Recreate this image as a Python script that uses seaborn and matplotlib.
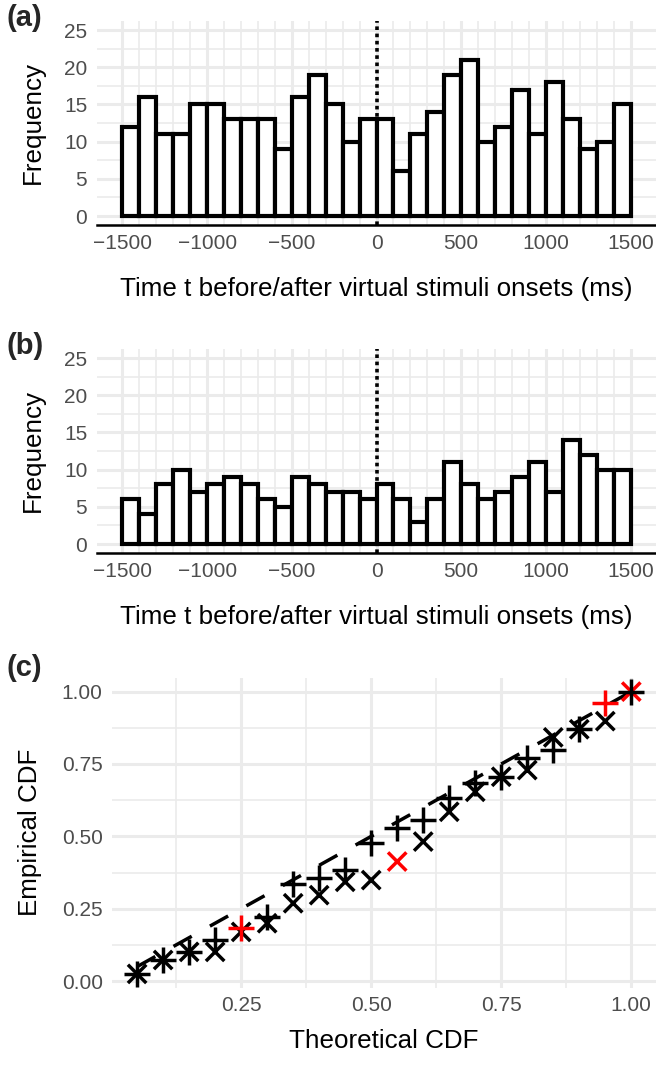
import numpy as np
import pandas as pd
import matplotlib
matplotlib.use("Agg")
import matplotlib.pyplot as plt
import seaborn as sns
from matplotlib.ticker import FormatStrFormatter

# ---------------- data ----------------
bin_edges = list(range(-1500, 1501, 100))
counts_a = [12, 16, 11, 11, 15, 15, 13, 13, 13, 9, 16, 19, 15, 10, 13,
            13, 6, 11, 14, 19, 21, 10, 12, 17, 11, 18, 13, 9, 10, 15]
counts_b = [6, 4, 8, 10, 7, 8, 9, 8, 6, 5, 9, 8, 7, 7, 6,
            8, 6, 3, 6, 11, 8, 6, 7, 9, 11, 7, 14, 12, 10, 10]

theoretical = [0.05, 0.10, 0.15, 0.20, 0.25, 0.30, 0.35, 0.40, 0.45, 0.50,
               0.55, 0.60, 0.65, 0.70, 0.75, 0.80, 0.85, 0.90, 0.95, 1.00]
emp_plus = [0.025, 0.073, 0.101, 0.142, 0.182, 0.222, 0.335, 0.355, 0.384, 0.476,
            0.528, 0.556, 0.631, 0.683, 0.706, 0.772, 0.800, 0.870, 0.960, 1.000]
emp_cross = [0.025, 0.073, 0.101, 0.101, 0.170, 0.200, 0.269, 0.297, 0.343, 0.349,
             0.413, 0.482, 0.585, 0.654, 0.706, 0.729, 0.842, 0.870, 0.898, 1.000]
plus_red = [0.25, 0.95]
cross_red = [0.55, 1.00]

xlabel_hist = "Time t before/after virtual stimuli onsets (ms)"

# ---------------- style ----------------
sns.set_theme(style="white")
plt.rcParams["font.family"] = ["Liberation Sans", "DejaVu Sans"]

GRID = "#EBEBEB"
TICKC = "#4D4D4D"
TICK_FS = 15
TITLE_FS = 18.7
TAG_FS = 21

W, H = 656, 1067
fig = plt.figure(figsize=(W / 100, H / 100), dpi=100)


def add_axes(l, t, r, b):
    return fig.add_axes([l / W, 1 - b / H, (r - l) / W, (b - t) / H])


def hist_panel(ax, counts, tag, tag_y):
    df = pd.DataFrame({"t": [e + 50 for e in bin_edges[:-1]], "n": counts})
    ax.axvline(0, color="black", linestyle=(0, (1, 1)), lw=2.6, zorder=2)
    sns.histplot(data=df, x="t", weights="n", bins=bin_edges, ax=ax,
                 color="white", edgecolor="black", linewidth=3.0, alpha=1,
                 zorder=3)
    ax.set_xlim(-1650, 1650)
    ax.set_ylim(-1.25, 26.25)
    ax.set_xticks(np.arange(-1500, 1501, 500))
    ax.set_xticks([v for v in range(-1400, 1500, 100) if v % 500 != 0], minor=True)
    ax.set_yticks(np.arange(0, 26, 5))
    ax.set_yticks(np.arange(2.5, 25, 5), minor=True)
    ax.grid(which="major", color=GRID, lw=2.2)
    ax.grid(which="minor", color=GRID, lw=1.2)
    ax.set_axisbelow(True)
    for s in ["top", "right", "left"]:
        ax.spines[s].set_visible(False)
    ax.spines["bottom"].set_color("black")
    ax.spines["bottom"].set_linewidth(1.8)
    ax.tick_params(which="both", length=0, labelsize=TICK_FS, labelcolor=TICKC)
    ax.tick_params(axis="x", pad=6)
    ax.tick_params(axis="y", pad=7)
    ax.set_xlabel(xlabel_hist, fontsize=TITLE_FS, color="black", labelpad=17.5)
    ax.set_ylabel("Frequency", fontsize=TITLE_FS, color="black", labelpad=14)
    fig.text(7 / W, 1 - tag_y / H, tag, fontsize=TAG_FS, fontweight="bold",
             ha="left", va="top")


ax_a = add_axes(97, 20.7, 656, 225.3)
hist_panel(ax_a, counts_a, "(a)", 4)

ax_b = add_axes(97, 348.7, 656, 553.3)
hist_panel(ax_b, counts_b, "(b)", 332)

# ---------------- panel c ----------------
ax_c = add_axes(112.4, 677.5, 656, 988)
df_plus = pd.DataFrame({"theo": theoretical, "emp": emp_plus,
                        "flag": ["red" if t in plus_red else "black" for t in theoretical]})
df_cross = pd.DataFrame({"theo": theoretical, "emp": emp_cross,
                         "flag": ["red" if t in cross_red else "black" for t in theoretical]})
pal = {"black": "black", "red": "red"}

sns.lineplot(x=theoretical, y=theoretical, ax=ax_c, color="black", lw=2.5,
             linestyle=(0, (6, 6)), zorder=3)
sns.scatterplot(data=df_cross, x="theo", y="emp", hue="flag", palette=pal,
                marker="x", s=175, linewidth=2.5, legend=False, ax=ax_c, zorder=4)
sns.scatterplot(data=df_plus, x="theo", y="emp", hue="flag", palette=pal,
                marker="+", s=350, linewidth=2.5, legend=False, ax=ax_c, zorder=5)

ax_c.set_xlim(0.0025, 1.0475)
ax_c.set_ylim(-0.02375, 1.04875)
ax_c.set_xticks([0.25, 0.5, 0.75, 1.0])
ax_c.set_xticks([0.125, 0.375, 0.625, 0.875], minor=True)
ax_c.set_yticks([0, 0.25, 0.5, 0.75, 1.0])
ax_c.set_yticks([0.125, 0.375, 0.625, 0.875], minor=True)
ax_c.xaxis.set_major_formatter(FormatStrFormatter("%.2f"))
ax_c.yaxis.set_major_formatter(FormatStrFormatter("%.2f"))
ax_c.grid(which="major", color=GRID, lw=2.2)
ax_c.grid(which="minor", color=GRID, lw=1.2)
ax_c.set_axisbelow(True)
for s in ax_c.spines.values():
    s.set_visible(False)
ax_c.tick_params(which="both", length=0, labelsize=TICK_FS, labelcolor=TICKC)
ax_c.tick_params(axis="x", pad=6)
ax_c.tick_params(axis="y", pad=7)
ax_c.set_xlabel("Theoretical CDF", fontsize=TITLE_FS, color="black", labelpad=10)
ax_c.set_ylabel("Empirical CDF", fontsize=TITLE_FS, color="black", labelpad=14)
fig.text(7 / W, 1 - 654 / H, "(c)", fontsize=TAG_FS, fontweight="bold",
         ha="left", va="top")

fig.savefig("out.png", dpi=100)
